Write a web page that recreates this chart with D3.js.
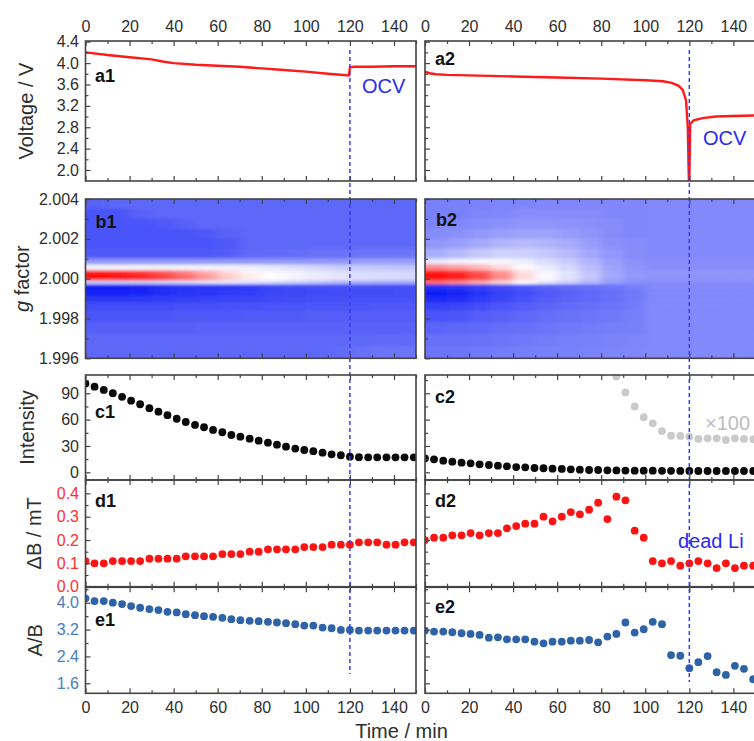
<!DOCTYPE html>
<html>
<head>
<meta charset="utf-8">
<script src="https://cdn.jsdelivr.net/npm/d3@7"></script>
<style>
  body { margin: 0; background: #fff; }
  text { font-family: "Liberation Sans", Arial, sans-serif; }
</style>
</head>
<body>
<svg id="chart" width="754" height="741"></svg>
<script>
// ---- data ----
// voltage curves (a1 / a2)
const a1Time = [0, 10, 20, 30, 35, 40, 50, 60, 70, 80, 90, 100, 110, 119.6, 120, 122, 130, 140, 150];
const a1Volt = [4.2, 4.15, 4.11, 4.07, 4.03, 4.0, 3.97, 3.95, 3.93, 3.9, 3.87, 3.84, 3.8, 3.77, 3.92, 3.93, 3.93, 3.94, 3.94];
const a2Time = [0, 2, 5, 10, 20, 40, 60, 80, 100, 108, 112, 115, 117, 118.5, 119.3, 119.8, 120, 120.4, 122, 126, 132, 140, 150];
const a2Volt = [3.84, 3.81, 3.79, 3.78, 3.77, 3.75, 3.73, 3.71, 3.68, 3.66, 3.63, 3.58, 3.5, 3.3, 2.8, 1.8, 1.8, 2.86, 2.93, 2.97, 3.0, 3.01, 3.02];

// EPR maps (b1 / b2): columns of time, rows of g value (top to bottom)
const mapTimeEdges = [0, 10, 20, 30, 40, 50, 60, 70, 80, 90, 100, 110, 120, 130, 140, 150];
const mapGEdges = [2.0040, 2.0035, 2.0030, 2.0025, 2.0020, 2.0015, 2.0010, 2.0007, 2.0004, 2.0002, 1.9999,
                   1.9997, 1.9994, 1.9991, 1.9988, 1.9984, 1.9978, 1.9972, 1.9966, 1.9960];
const b1Map = [
  [-0.68,-0.74,-0.74,-0.74,-0.74,-0.72,-0.45,-0.05,0.9,0.95,-0.2,-0.97,-0.95,-0.86,-0.77,-0.73,-0.69,-0.66,-0.66],
  [-0.66,-0.74,-0.74,-0.74,-0.74,-0.72,-0.45,-0.05,0.85,0.92,-0.2,-0.97,-0.95,-0.86,-0.77,-0.73,-0.69,-0.66,-0.66],
  [-0.66,-0.68,-0.74,-0.74,-0.74,-0.72,-0.45,-0.05,0.78,0.86,-0.2,-0.96,-0.94,-0.85,-0.77,-0.73,-0.69,-0.66,-0.66],
  [-0.66,-0.66,-0.72,-0.74,-0.74,-0.72,-0.45,-0.05,0.65,0.75,-0.18,-0.9,-0.9,-0.84,-0.77,-0.73,-0.69,-0.66,-0.66],
  [-0.66,-0.66,-0.68,-0.74,-0.74,-0.72,-0.45,-0.05,0.5,0.58,-0.15,-0.88,-0.88,-0.83,-0.76,-0.72,-0.69,-0.66,-0.66],
  [-0.66,-0.66,-0.66,-0.72,-0.74,-0.72,-0.45,-0.05,0.32,0.4,-0.12,-0.87,-0.86,-0.82,-0.76,-0.72,-0.68,-0.66,-0.66],
  [-0.66,-0.66,-0.66,-0.68,-0.72,-0.7,-0.45,-0.05,0.15,0.2,-0.1,-0.86,-0.85,-0.81,-0.75,-0.72,-0.68,-0.66,-0.66],
  [-0.66,-0.66,-0.66,-0.66,-0.66,-0.65,-0.45,-0.07,0.04,0.07,-0.12,-0.85,-0.84,-0.8,-0.75,-0.71,-0.68,-0.66,-0.66],
  [-0.66,-0.66,-0.66,-0.66,-0.66,-0.64,-0.45,-0.1,-0.02,0.0,-0.15,-0.8,-0.8,-0.78,-0.74,-0.71,-0.68,-0.66,-0.66],
  [-0.66,-0.66,-0.66,-0.66,-0.66,-0.63,-0.45,-0.14,-0.05,-0.04,-0.2,-0.78,-0.79,-0.77,-0.74,-0.71,-0.68,-0.66,-0.66],
  [-0.66,-0.66,-0.66,-0.66,-0.66,-0.62,-0.45,-0.18,-0.09,-0.08,-0.25,-0.77,-0.78,-0.76,-0.73,-0.7,-0.68,-0.66,-0.66],
  [-0.66,-0.66,-0.66,-0.66,-0.66,-0.62,-0.45,-0.22,-0.12,-0.11,-0.3,-0.76,-0.77,-0.76,-0.73,-0.7,-0.68,-0.66,-0.64],
  [-0.66,-0.66,-0.66,-0.66,-0.66,-0.6,-0.42,-0.24,-0.15,-0.14,-0.33,-0.76,-0.77,-0.75,-0.73,-0.7,-0.68,-0.66,-0.62],
  [-0.66,-0.66,-0.66,-0.66,-0.66,-0.6,-0.42,-0.25,-0.16,-0.15,-0.35,-0.76,-0.77,-0.75,-0.72,-0.7,-0.68,-0.65,-0.6],
  [-0.66,-0.66,-0.66,-0.66,-0.66,-0.6,-0.42,-0.26,-0.17,-0.16,-0.36,-0.76,-0.76,-0.75,-0.72,-0.7,-0.68,-0.65,-0.6]
];
const b2Map = [
  [-0.55,-0.55,-0.53,-0.5,-0.45,-0.35,-0.1,0.45,0.9,0.95,0.55,-0.9,-0.98,-0.92,-0.82,-0.74,-0.67,-0.62,-0.6],
  [-0.55,-0.55,-0.52,-0.48,-0.42,-0.3,-0.06,0.38,0.82,0.88,0.45,-0.88,-0.95,-0.9,-0.8,-0.73,-0.66,-0.62,-0.6],
  [-0.54,-0.53,-0.5,-0.45,-0.37,-0.24,-0.04,0.28,0.66,0.72,0.3,-0.83,-0.88,-0.85,-0.77,-0.7,-0.65,-0.61,-0.58],
  [-0.53,-0.52,-0.48,-0.42,-0.32,-0.2,-0.04,0.14,0.42,0.46,0.14,-0.78,-0.82,-0.8,-0.73,-0.68,-0.63,-0.6,-0.57],
  [-0.53,-0.5,-0.46,-0.4,-0.3,-0.2,-0.08,0.02,0.12,0.15,0.0,-0.73,-0.77,-0.75,-0.7,-0.66,-0.62,-0.58,-0.56],
  [-0.52,-0.5,-0.46,-0.4,-0.32,-0.24,-0.15,-0.08,-0.03,-0.02,-0.1,-0.69,-0.72,-0.7,-0.67,-0.63,-0.6,-0.57,-0.55],
  [-0.52,-0.5,-0.47,-0.43,-0.36,-0.3,-0.22,-0.17,-0.12,-0.12,-0.2,-0.66,-0.68,-0.67,-0.64,-0.61,-0.58,-0.56,-0.55],
  [-0.52,-0.5,-0.48,-0.46,-0.42,-0.38,-0.32,-0.28,-0.25,-0.25,-0.3,-0.63,-0.65,-0.64,-0.62,-0.6,-0.57,-0.55,-0.54],
  [-0.52,-0.52,-0.5,-0.5,-0.48,-0.45,-0.42,-0.4,-0.38,-0.38,-0.42,-0.6,-0.62,-0.62,-0.6,-0.58,-0.56,-0.54,-0.53],
  [-0.52,-0.52,-0.52,-0.52,-0.5,-0.5,-0.48,-0.46,-0.45,-0.45,-0.48,-0.56,-0.58,-0.58,-0.57,-0.56,-0.55,-0.53,-0.52],
  [-0.51,-0.51,-0.51,-0.51,-0.51,-0.51,-0.5,-0.49,-0.46,-0.46,-0.49,-0.51,-0.51,-0.51,-0.51,-0.51,-0.51,-0.51,-0.51],
  [-0.51,-0.51,-0.51,-0.51,-0.51,-0.51,-0.5,-0.49,-0.46,-0.46,-0.49,-0.51,-0.51,-0.51,-0.51,-0.51,-0.51,-0.51,-0.51],
  [-0.51,-0.51,-0.51,-0.51,-0.51,-0.51,-0.5,-0.49,-0.46,-0.46,-0.49,-0.51,-0.51,-0.51,-0.51,-0.51,-0.51,-0.51,-0.51],
  [-0.51,-0.51,-0.51,-0.51,-0.51,-0.51,-0.5,-0.49,-0.46,-0.46,-0.49,-0.51,-0.51,-0.51,-0.51,-0.51,-0.51,-0.51,-0.51],
  [-0.51,-0.51,-0.51,-0.51,-0.51,-0.51,-0.5,-0.49,-0.46,-0.46,-0.49,-0.51,-0.51,-0.51,-0.51,-0.51,-0.51,-0.51,-0.51]
];

// point series (c, d, e), all sampled at the same times
const spotTime = [0, 4.1, 8.3, 12.4, 16.6, 20.7, 24.8, 29.0, 33.1, 37.2, 41.4, 45.5, 49.7, 53.8, 57.9, 62.1,
                  66.2, 70.3, 74.5, 78.6, 82.8, 86.9, 91.0, 95.2, 99.3, 103.4, 107.6, 111.7, 115.9, 120.0,
                  124.1, 128.3, 132.4, 136.6, 140.7, 144.8, 149.0];
const c1Intensity = [101, 97.5, 93.8, 90, 86, 81.6, 77.5, 73, 69, 65, 61, 57.3, 54, 51.3, 48.2, 45.6, 42.5, 40.6,
                     38.3, 36, 33.7, 31.5, 29.2, 27, 25.4, 24, 22.3, 20.5, 19.4, 17.8, 17.2, 17.1, 17, 17, 17, 17, 17];
const c2Intensity = [15.9, 14.8, 13.2, 12.1, 11, 10.2, 9.1, 8.3, 7.5, 6.8, 6, 5.7, 4.9, 4.6, 4.1, 3.8, 3.4, 3,
                     2.6, 2.6, 2.2, 2.1, 2, 1.9, 1.8, 1.8, 1.7, 1.7, 1.6, 1.6, 1.5, 1.5, 1.5, 1.5, 1.5, 1.5, 1.5];
const c2Times100 = [null, null, null, null, null, null, null, null, null, null, null, null, null, null, null, null,
                    null, null, null, null, null, 109, 91, 75, 62.7, 55.8, 47, 41.7, 41.4, 40.6, 38, 38.7, 38.7,
                    36.8, 38.7, 38, 37.6];
const d1Width = [0.11, 0.10, 0.10, 0.11, 0.11, 0.11, 0.11, 0.12, 0.12, 0.12, 0.12, 0.13, 0.13, 0.13, 0.13, 0.14,
                 0.14, 0.14, 0.15, 0.15, 0.16, 0.16, 0.16, 0.16, 0.17, 0.17, 0.17, 0.18, 0.18, 0.18, 0.19, 0.19,
                 0.19, 0.18, 0.18, 0.19, 0.19];
const d2Width = [0.20, 0.21, 0.21, 0.22, 0.22, 0.23, 0.22, 0.23, 0.23, 0.25, 0.26, 0.27, 0.27, 0.30, 0.28, 0.30,
                 0.32, 0.31, 0.33, 0.36, 0.29, 0.386, 0.37, 0.24, 0.21, 0.11, 0.10, 0.11, 0.09, 0.10, 0.11, 0.10,
                 0.08, 0.10, 0.08, 0.09, 0.09];
const e1Ratio = [4.13, 4.05, 4.05, 4.0, 3.96, 3.90, 3.85, 3.81, 3.78, 3.73, 3.71, 3.66, 3.63, 3.60, 3.58, 3.55,
                 3.51, 3.48, 3.46, 3.45, 3.43, 3.41, 3.39, 3.36, 3.32, 3.32, 3.26, 3.24, 3.19, 3.19, 3.17, 3.17,
                 3.17, 3.17, 3.17, 3.17, 3.17];
const e2Ratio = [3.17, 3.14, 3.14, 3.12, 3.09, 3.07, 3.04, 2.96, 2.97, 2.91, 2.91, 2.91, 2.84, 2.79, 2.84, 2.84,
                 2.87, 2.87, 2.89, 2.82, 2.99, 3.07, 3.41, 3.11, 3.21, 3.43, 3.36, 2.44, 2.42, 2.05, 2.23, 2.41,
                 1.93, 1.85, 2.12, 2.03, 1.72];

// tick values
const timeTicks = [0, 20, 40, 60, 80, 100, 120, 140];
const timeMinor = [10, 30, 50, 70, 90, 110, 130, 150];
const voltTicks = [2.0, 2.4, 2.8, 3.2, 3.6, 4.0, 4.4];
const voltMinor = [2.2, 2.6, 3.0, 3.4, 3.8, 4.2];
const gTicks = [1.996, 1.998, 2.000, 2.002, 2.004];
const gMinor = [1.997, 1.999, 2.001, 2.003];
const intTicks = [0, 30, 60, 90];
const intMinor = [15, 45, 75, 105];
const widthTicks = [0.0, 0.1, 0.2, 0.3, 0.4];
const widthMinor = [0.05, 0.15, 0.25, 0.35];
const ratioTicks = [1.6, 2.4, 3.2, 4.0];
const ratioMinor = [2.0, 2.8, 3.6, 4.4];

// ---- layout ----
const svg = d3.select('#chart');
const defs = svg.append('defs');
const frameColor = '#444';
const textColor = '#2e2e2e';

const xLeft = d3.scaleLinear().domain([0, 150]).range([85.5, 416]);
const xRight = d3.scaleLinear().domain([0, 150]).range([425, 755.4]);

const rows = {
  a: {y: d3.scaleLinear().domain([1.794, 4.413]).range([181, 41]), ticks: voltTicks, minor: voltMinor,
      fmt: d3.format('.1f'), title: 'Voltage / V', titleX: 33, color: textColor},
  b: {y: d3.scaleLinear().domain([1.996, 2.004]).range([358.3, 199]), ticks: gTicks, minor: gMinor,
      fmt: d3.format('.3f'), title: null, titleX: 29, color: textColor},
  c: {y: d3.scaleLinear().domain([-8.77, 110.8]).range([480, 375]), ticks: intTicks, minor: intMinor,
      fmt: d3.format('d'), title: 'Intensity', titleX: 34, color: textColor},
  d: {y: d3.scaleLinear().domain([0, 0.4573]).range([586.7, 480]), ticks: widthTicks, minor: widthMinor,
      fmt: d3.format('.1f'), title: 'ΔB / mT', titleX: 41, color: '#ff3030'},
  e: {y: d3.scaleLinear().domain([1.302, 4.459]).range([693.3, 587.3]), ticks: ratioTicks, minor: ratioMinor,
      fmt: d3.format('.1f'), title: 'A/B', titleX: 42, color: '#4a7cc0'}
};

function styleAxis(g, color) {
  g.select('.domain').remove();
  g.attr('font-size', 16).attr('font-family', '"Liberation Sans", Arial, sans-serif');
  g.selectAll('line').attr('stroke', frameColor).attr('stroke-width', 1.2);
  g.selectAll('text').attr('fill', color);
}

let clipCount = 0;
function panelClip(x, row) {
  const id = 'clip' + (clipCount++);
  const [y0, y1] = row.y.range();
  defs.append('clipPath').attr('id', id).append('rect')
    .attr('x', x.range()[0]).attr('y', y1)
    .attr('width', x.range()[1] - x.range()[0]).attr('height', y0 - y1);
  return svg.append('g').attr('clip-path', `url(#${id})`);
}

function drawAxes(x, row, key, isLeft) {
  const [y0, y1] = row.y.range();
  const x0 = x.range()[0];
  // y axis (labels only on the left column)
  svg.append('g').attr('transform', `translate(${x0},0)`)
    .call(d3.axisLeft(row.y).tickValues(row.ticks).tickSize(-5).tickPadding(6.5)
      .tickFormat(isLeft ? row.fmt : ''))
    .call(g => styleAxis(g, row.color));
  svg.append('g').attr('transform', `translate(${x0},0)`)
    .call(d3.axisLeft(row.y).tickValues(row.minor).tickSize(-3).tickFormat(''))
    .call(g => styleAxis(g, row.color));
  // time ticks on top and bottom
  svg.append('g').attr('transform', `translate(0,${y1})`)
    .call(d3.axisTop(x).tickValues(timeTicks).tickSize(-5).tickPadding(9.5)
      .tickFormat(key === 'a' ? d3.format('d') : ''))
    .call(g => styleAxis(g, textColor));
  svg.append('g').attr('transform', `translate(0,${y0})`)
    .call(d3.axisBottom(x).tickValues(timeTicks).tickSize(-5).tickPadding(8.3)
      .tickFormat(key === 'e' ? d3.format('d') : ''))
    .call(g => styleAxis(g, textColor));
  [[y1, d3.axisTop], [y0, d3.axisBottom]].forEach(([yy, ax]) => {
    svg.append('g').attr('transform', `translate(0,${yy})`)
      .call(ax(x).tickValues(timeMinor).tickSize(-3).tickFormat(''))
      .call(g => styleAxis(g, textColor));
  });
}

function drawFrame(x, row) {
  const [y0, y1] = row.y.range();
  svg.append('rect')
    .attr('x', x.range()[0]).attr('y', y1)
    .attr('width', x.range()[1] - x.range()[0]).attr('height', y0 - y1)
    .attr('fill', 'none').attr('stroke', frameColor).attr('stroke-width', 1.6);
}

// ---- a: voltage ----
const voltLine = x => d3.line().x(d => x(d[0])).y(d => rows.a.y(d[1]));
panelClip(xLeft, rows.a).append('path')
  .datum(d3.zip(a1Time, a1Volt))
  .attr('d', voltLine(xLeft)).attr('fill', 'none').attr('stroke', '#ff1a1a').attr('stroke-width', 2.4);
panelClip(xRight, rows.a).append('path')
  .datum(d3.zip(a2Time, a2Volt))
  .attr('d', voltLine(xRight)).attr('fill', 'none').attr('stroke', '#ff1a1a').attr('stroke-width', 2.4);

// ---- b: maps ----
const mapColor = d3.scaleLinear().domain([-1, 0, 1]).range(['#0a18f5', '#ffffff', '#ff0000']);
function smoothFilter(id, dev) {
  const f = defs.append('filter').attr('id', id)
    .attr('x', '-5%').attr('y', '-5%').attr('width', '110%').attr('height', '110%');
  f.append('feGaussianBlur').attr('stdDeviation', dev);
  f.append('feComponentTransfer').append('feFuncA')
    .attr('type', 'linear').attr('slope', 0).attr('intercept', 1);
}
smoothFilter('smoothB1', '6 1.4');
smoothFilter('smoothB2', '4 1.4');

function drawMap(x, grid, filterId) {
  const cells = [];
  grid.forEach((col, i) => col.forEach((v, j) => cells.push({i, j, v})));
  panelClip(x, rows.b).append('g').attr('filter', `url(#${filterId})`)
    .selectAll('rect').data(cells).join('rect')
      .attr('x', d => x(mapTimeEdges[d.i]) - 0.3)
      .attr('width', d => x(mapTimeEdges[d.i + 1]) - x(mapTimeEdges[d.i]) + 0.6)
      .attr('y', d => rows.b.y(mapGEdges[d.j]) - 0.3)
      .attr('height', d => rows.b.y(mapGEdges[d.j + 1]) - rows.b.y(mapGEdges[d.j]) + 0.6)
      .attr('fill', d => mapColor(d.v));
}
drawMap(xLeft, b1Map, 'smoothB1');
drawMap(xRight, b2Map, 'smoothB2');

// ---- c, d, e: points ----
function drawDots(x, row, values, color) {
  const pts = spotTime.map((t, i) => [t, values[i]]).filter(d => d[1] != null);
  panelClip(x, row).selectAll('circle').data(pts).join('circle')
    .attr('cx', d => x(d[0])).attr('cy', d => row.y(d[1])).attr('r', 3.9)
    .attr('fill', color);
}
drawDots(xLeft, rows.c, c1Intensity, '#0a0a0a');
drawDots(xRight, rows.c, c2Times100, '#cacaca');
drawDots(xRight, rows.c, c2Intensity, '#0a0a0a');
drawDots(xLeft, rows.d, d1Width, '#ff1414');
drawDots(xRight, rows.d, d2Width, '#ff1414');
drawDots(xLeft, rows.e, e1Ratio, '#2e63a8');
drawDots(xRight, rows.e, e2Ratio, '#2e63a8');

// ---- axes, frames ----
Object.entries(rows).forEach(([key, row]) => {
  drawAxes(xLeft, row, key, true);
  drawAxes(xRight, row, key, false);
});

// dashed line at the end of discharge
[[xLeft, 674], [xRight, 682]].forEach(([x, yEnd]) => {
  svg.append('line')
    .attr('x1', x(120)).attr('x2', x(120)).attr('y1', 50).attr('y2', yEnd)
    .attr('stroke', '#3a3aff').attr('stroke-width', 1.5).attr('stroke-dasharray', '4,3');
});

Object.values(rows).forEach(row => { drawFrame(xLeft, row); drawFrame(xRight, row); });

// ---- text ----
Object.values(rows).forEach(row => {
  const [y0, y1] = row.y.range();
  const t = svg.append('text')
    .attr('transform', `translate(${row.titleX},${(y0 + y1) / 2}) rotate(-90)`)
    .attr('text-anchor', 'middle').attr('font-size', 20).attr('fill', textColor);
  if (row.title) {
    t.text(row.title);
  } else {
    t.append('tspan').attr('font-style', 'italic').text('g');
    t.append('tspan').text(' factor');
  }
});

svg.append('text').attr('x', 401.5).attr('y', 737.5).attr('text-anchor', 'middle')
  .attr('font-size', 20).attr('fill', textColor).text('Time / min');

const panelLabels = [
  ['a1', 95, 82], ['b1', 95.5, 227.5], ['c1', 95, 418], ['d1', 95, 507], ['e1', 95, 626],
  ['a2', 435, 65], ['b2', 436, 226], ['c2', 435, 403], ['d2', 435, 507], ['e2', 435, 613]
];
svg.selectAll('text.panel').data(panelLabels).join('text').attr('class', 'panel')
  .attr('x', d => d[1]).attr('y', d => d[2])
  .attr('font-size', 18).attr('font-weight', 'bold').attr('fill', '#111').text(d => d[0]);

const notes = [
  ['OCV', 362, 93, '#2a2af0'], ['OCV', 703, 145, '#2a2af0'],
  ['dead Li', 678, 548, '#2a2af0'], ['×100', 705, 430, '#bdbdbd']
];
svg.selectAll('text.note').data(notes).join('text').attr('class', 'note')
  .attr('x', d => d[1]).attr('y', d => d[2])
  .attr('font-size', 20).attr('fill', d => d[3]).text(d => d[0]);
</script>
</body>
</html>
